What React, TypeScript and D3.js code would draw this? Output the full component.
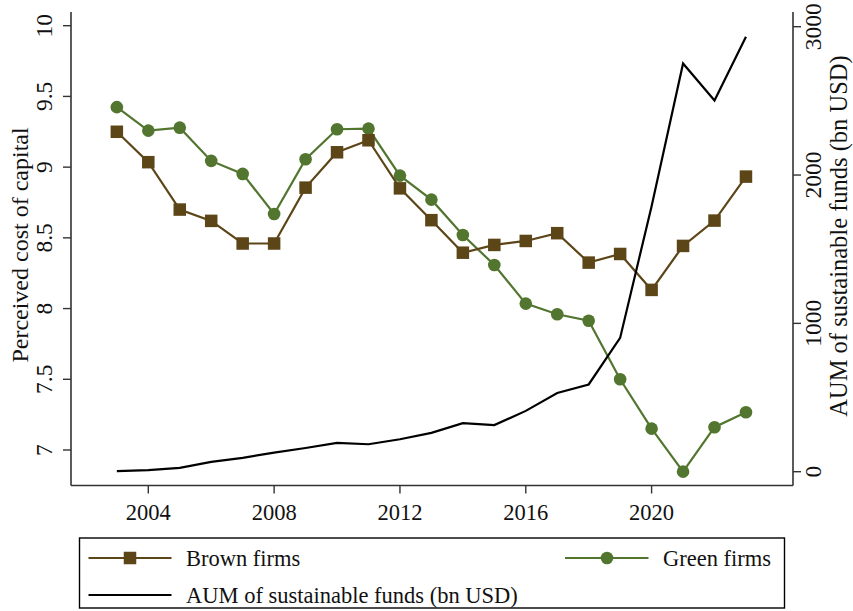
import React from "react";
import * as d3 from "d3";

const years = [2003, 2004, 2005, 2006, 2007, 2008, 2009, 2010, 2011, 2012, 2013, 2014, 2015, 2016, 2017, 2018, 2019, 2020, 2021, 2022, 2023];
const brownFirms = [9.25, 9.035, 8.70, 8.62, 8.46, 8.46, 8.855, 9.105, 9.19, 8.85, 8.625, 8.395, 8.45, 8.478, 8.533, 8.325, 8.386, 8.132, 8.443, 8.622, 8.933];
const greenFirms = [9.424, 9.258, 9.279, 9.044, 8.952, 8.669, 9.056, 9.268, 9.272, 8.94, 8.77, 8.52, 8.308, 8.035, 7.96, 7.914, 7.50, 7.151, 6.847, 7.161, 7.267];
const aumFunds = [4, 10, 26, 66, 93, 129, 160, 194, 185, 219, 262, 327, 314, 410, 531, 588, 902, 1790, 2752, 2503, 2932];

const xTicks = [2004, 2008, 2012, 2016, 2020];
const leftTicks = [7, 7.5, 8, 8.5, 9, 9.5, 10];
const leftTickLabels = ["7", "7.5", "8", "8.5", "9", "9.5", "10"];
const rightTicks = [0, 1000, 2000, 3000];

const leftTitle = "Perceived cost of capital";
const rightTitle = "AUM of sustainable funds (bn USD)";
const legendLabels = ["Brown firms", "Green firms", "AUM of sustainable funds (bn USD)"];

const BROWN = "#5c4517";
const GREEN = "#52762f";
const FONT = "'Liberation Serif', 'Times New Roman', serif";

export default function App() {
  const W = 853, H = 611;
  const plot = { left: 71, right: 793, top: 12, bottom: 485.5 };

  const x = d3.scaleLinear().domain([2004, 2020]).range([148.3, 651.6]);
  const yL = d3.scaleLinear().domain([7, 10]).range([450, 25.7]);
  const yR = d3.scaleLinear().domain([0, 3000]).range([471.7, 26.7]);

  const brownLine = d3.line<number>().x((_, i) => x(years[i])).y((d) => yL(d))(brownFirms) || "";
  const greenLine = d3.line<number>().x((_, i) => x(years[i])).y((d) => yL(d))(greenFirms) || "";
  const aumLine = d3.line<number>().x((_, i) => x(years[i])).y((d) => yR(d))(aumFunds) || "";

  const sq = 12.5;
  const cr = 6.3;
  const tickLen = 8;
  const axisStroke = "#333";

  const legend = { x: 79.5, y: 538, w: 705, h: 70 };
  const row1 = 558, row2 = 595;

  return (
    <svg width={W} height={H} style={{ position: "absolute", left: 0, top: 0, background: "#fff" }} fontFamily={FONT}>
      <rect x={0} y={0} width={W} height={H} fill="#fff" />
      {/* axes */}
      <line x1={plot.left} x2={plot.left} y1={plot.top} y2={plot.bottom} stroke={axisStroke} strokeWidth={1.6} />
      <line x1={plot.right} x2={plot.right} y1={plot.top} y2={plot.bottom} stroke={axisStroke} strokeWidth={1.6} />
      <line x1={plot.left} x2={plot.right} y1={plot.bottom} y2={plot.bottom} stroke={axisStroke} strokeWidth={1.6} />

      {leftTicks.map((t, i) => (
        <g key={"l" + t}>
          <line x1={plot.left - tickLen} x2={plot.left} y1={yL(t)} y2={yL(t)} stroke={axisStroke} strokeWidth={1.4} />
          <text transform={`translate(52,${yL(t)}) rotate(-90)`} textAnchor="middle" fontSize={23.5} fill="#111">
            {leftTickLabels[i]}
          </text>
        </g>
      ))}
      {rightTicks.map((t) => (
        <g key={"r" + t}>
          <line x1={plot.right} x2={plot.right + tickLen} y1={yR(t)} y2={yR(t)} stroke={axisStroke} strokeWidth={1.4} />
          <text transform={`translate(821,${yR(t)}) rotate(-90)`} textAnchor="middle" fontSize={23.5} fill="#111">
            {String(t)}
          </text>
        </g>
      ))}
      {xTicks.map((t) => (
        <g key={"x" + t}>
          <line x1={x(t)} x2={x(t)} y1={plot.bottom} y2={plot.bottom + tickLen} stroke={axisStroke} strokeWidth={1.4} />
          <text x={x(t)} y={520} textAnchor="middle" fontSize={22.5} fill="#111">
            {String(t)}
          </text>
        </g>
      ))}

      <text transform={`translate(28,245) rotate(-90)`} textAnchor="middle" fontSize={24} fill="#111">
        {leftTitle}
      </text>
      <text transform={`translate(847,236) rotate(-90)`} textAnchor="middle" fontSize={24.5} fill="#111">
        {rightTitle}
      </text>

      {/* series */}
      <path d={greenLine} fill="none" stroke={GREEN} strokeWidth={2.2} />
      {greenFirms.map((v, i) => (
        <circle key={"g" + i} cx={x(years[i])} cy={yL(v)} r={cr} fill={GREEN} />
      ))}
      <path d={brownLine} fill="none" stroke={BROWN} strokeWidth={2.2} />
      {brownFirms.map((v, i) => (
        <rect key={"b" + i} x={x(years[i]) - sq / 2} y={yL(v) - sq / 2} width={sq} height={sq} fill={BROWN} />
      ))}
      <path d={aumLine} fill="none" stroke="#000" strokeWidth={2.2} />

      {/* legend */}
      <rect x={legend.x} y={legend.y} width={legend.w} height={legend.h} fill="#fff" stroke="#000" strokeWidth={1.4} />
      <line x1={88.5} x2={171.5} y1={row1} y2={row1} stroke={BROWN} strokeWidth={2.2} />
      <rect x={130 - sq / 2} y={row1 - sq / 2} width={sq} height={sq} fill={BROWN} />
      <text x={186} y={row1 + 8} fontSize={22.5} fill="#111">{legendLabels[0]}</text>

      <line x1={565} x2={648.5} y1={row1} y2={row1} stroke={GREEN} strokeWidth={2.2} />
      <circle cx={607} cy={row1} r={cr} fill={GREEN} />
      <text x={663} y={row1 + 8} fontSize={22.5} fill="#111">{legendLabels[1]}</text>

      <line x1={88.5} x2={171.5} y1={row2} y2={row2} stroke="#000" strokeWidth={2.2} />
      <text x={186} y={row2 + 8} fontSize={22.5} fill="#111">{legendLabels[2]}</text>
    </svg>
  );
}
